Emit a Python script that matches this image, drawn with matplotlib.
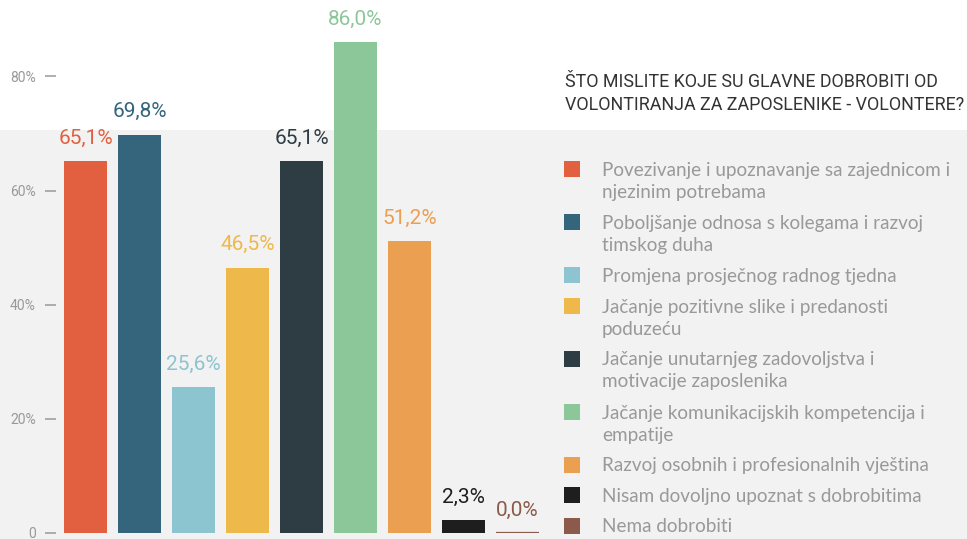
import matplotlib
matplotlib.use("Agg")
import matplotlib.pyplot as plt
from matplotlib.patches import Rectangle

plt.rcParams['font.family'] = ['Roboto', 'DejaVu Sans']

# survey answers, percent of respondents
categories = [
    ["Povezivanje i upoznavanje sa zajednicom i", "njezinim potrebama"],
    ["Poboljšanje odnosa s kolegama i razvoj", "timskog duha"],
    ["Promjena prosječnog radnog tjedna"],
    ["Jačanje pozitivne slike i predanosti", "poduzeću"],
    ["Jačanje unutarnjeg zadovoljstva i", "motivacije zaposlenika"],
    ["Jačanje komunikacijskih kompetencija i", "empatije"],
    ["Razvoj osobnih i profesionalnih vještina"],
    ["Nisam dovoljno upoznat s dobrobitima"],
    ["Nema dobrobiti"],
]
values = [65.1, 69.8, 25.6, 46.5, 65.1, 86.0, 51.2, 2.3, 0.0]
colors = ['#e2603f', '#35657c', '#8cc4cf', '#efb84b', '#2e3c44',
          '#8cc79a', '#ea9f51', '#1e1e1e', '#8b5a4a']
y_ticks = [0, 20, 40, 60, 80]
y_tick_labels = ["0", "20%", "40%", "60%", "80%"]
title_lines = ["ŠTO MISLITE KOJE SU GLAVNE DOBROBITI OD",
               "VOLONTIRANJA ZA ZAPOSLENIKE - VOLONTERE?"]

W, H = 967, 539
fig = plt.figure(figsize=(W / 100, H / 100), dpi=100)
fig.patch.set_facecolor('white')

# light grey band behind the lower part
fig.add_artist(Rectangle((0, 0), 1, 409 / H, transform=fig.transFigure,
                         facecolor='#f2f2f2', edgecolor='none', zorder=0))

ax = fig.add_axes([56 / W, 6 / H, 492 / W, 513.6 / H])
ax.patch.set_visible(False)
for s in ax.spines.values():
    s.set_visible(False)

x = list(range(len(values)))
lw = [0 if v > 0 else 1.6 for v in values]
ax.bar(x, values, width=43 / 54, color=colors, edgecolor=colors, linewidth=lw, zorder=2)

for i, v in enumerate(values):
    lab = f"{v:.1f}".replace('.', ',') + '%'
    ax.annotate(lab, (i, v), xytext=(0, 12.5), textcoords='offset points',
                ha='center', va='baseline', color=colors[i], fontsize=15)

ax.set_xlim(-0.546, 8.565)
ax.set_ylim(0, 90)
ax.set_xticks([])
ax.set_yticks(y_ticks, y_tick_labels)
ax.tick_params(axis='y', length=7.9, width=1.1, color='#999999', pad=6.5,
               labelsize=10, labelcolor='#999999')

# title
for k, line in enumerate(title_lines):
    fig.text(565 / W, 1 - (87 + 23 * k) / H, line, ha='left', va='baseline',
             fontsize=12.9, color='#333333')

# legend drawn by hand: square + wrapped label
y = 169
for lines, c in zip(categories, colors):
    fig.add_artist(Rectangle((564 / W, 1 - (y + 8) / H), 16 / W, 16 / H,
                             transform=fig.transFigure, facecolor=c,
                             edgecolor='none', zorder=3))
    for k, line in enumerate(lines):
        fig.text(602 / W, 1 - (y + 7 + 22 * k) / H, line, ha='left', va='baseline',
                 fontsize=13.6, color='#999999', family=['Lato', 'DejaVu Sans'])
    y += 30.5 + 22.5 * (len(lines) - 1)

fig.savefig('out.png', dpi=100, facecolor=fig.get_facecolor())
